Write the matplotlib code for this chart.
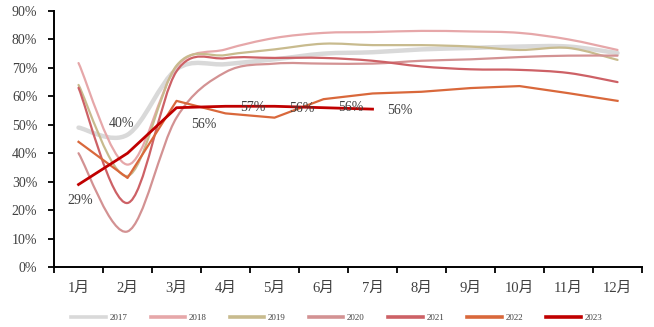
import numpy as np
import matplotlib.pyplot as plt
from matplotlib.path import Path
from matplotlib.patches import PathPatch
from matplotlib.lines import Line2D

# month labels
months = ['1月', '2月', '3月', '4月', '5月', '6月', '7月', '8月', '9月', '10月', '11月', '12月']

# monthly values (%)
y2017 = [49, 46.5, 69.5, 71.3, 73, 75, 75.5, 76.5, 77, 77.5, 77.5, 75.2]
y2018 = [71.7, 36, 70.5, 76.5, 80.5, 82.3, 82.6, 83, 82.8, 82.3, 80, 76.3]
y2019 = [64, 32, 70.8, 74.5, 76.5, 78.5, 78, 78, 77.5, 76.3, 77, 72.8]
y2020 = [40, 12.5, 52.5, 68.5, 71.5, 71.5, 71.5, 72.5, 73, 73.8, 74.3, 74.3]
y2021 = [63, 22.5, 68.8, 73.4, 73.5, 73.5, 72.5, 70.5, 69.5, 69.3, 68.2, 65]
y2022 = [44, 31.3, 58.4, 54, 52.5, 59, 61, 61.6, 62.9, 63.6, 61.1, 58.4]
y2023 = [29, 40, 56, 56.5, 56.5, 56, 55.5]

# data labels for 2023: (month index, text, offset in pixels)
label_idx = [0, 1, 2, 3, 4, 5, 6]
label_txt = ['29%', '40%', '56%', '57%', '56%', '56%', '56%']
label_off = [(2, -16), (-6, 30), (27, -17), (27, -1), (27, -2), (27, 0), (27, -1)]

series = [
    ('2017', y2017, '#d9d9d9', 3.2, True),
    ('2018', y2018, '#e6a7a9', 1.6, True),
    ('2019', y2019, '#c8bb8e', 1.6, True),
    ('2020', y2020, '#d39293', 1.6, True),
    ('2021', y2021, '#cd6166', 1.6, True),
    ('2022', y2022, '#d9683b', 1.6, False),
    ('2023', y2023, '#c00000', 2.0, False),
]

plt.rcParams['font.family'] = ['Liberation Serif', 'Noto Sans CJK SC']

fig = plt.figure(figsize=(6.54, 3.27), dpi=100)
ax = fig.add_axes([0.0826, 0.1835, 0.8991, 0.7829])


def smooth_path(x, y):
    # Excel-style smoothed line: cubic bezier through the points
    pts = np.column_stack([x, y])
    n = len(pts)
    verts = [pts[0]]
    codes = [Path.MOVETO]
    for i in range(n - 1):
        p_prev = pts[i - 1] if i > 0 else pts[i]
        p_next2 = pts[i + 2] if i + 2 < n else pts[i + 1]
        c1 = pts[i] + (pts[i + 1] - p_prev) / 6
        c2 = pts[i + 1] - (p_next2 - pts[i]) / 6
        verts += [c1, c2, pts[i + 1]]
        codes += [Path.CURVE4] * 3
    return Path(verts, codes)


handles = []
for name, vals, col, lw, smooth in series:
    x = np.arange(len(vals)) + 0.5
    if smooth:
        ax.add_patch(PathPatch(smooth_path(x, vals), fill=False, edgecolor=col,
                               lw=lw, capstyle='round', joinstyle='round'))
    else:
        ax.plot(x, vals, color=col, lw=lw)
    handles.append(Line2D([], [], color=col, lw=2.6, label=name))

for i, t, off in zip(label_idx, label_txt, label_off):
    ax.annotate(t, (i + 0.5, y2023[i]), xytext=off, textcoords='offset pixels',
                ha='center', va='center', fontsize=10, color='#404040')

ax.set_xlim(0, 12)
ax.set_ylim(0, 90)
ax.set_xticks(np.arange(13))
ax.set_xticklabels([])
ax.set_xticks(np.arange(12) + 0.5, minor=True)
ax.set_xticklabels(months, minor=True)
ax.tick_params(axis='x', which='minor', length=0, pad=11, labelsize=10.5, labelcolor='#404040')
ax.tick_params(axis='x', which='major', length=4, width=1.3, direction='out')
ax.set_yticks(np.arange(0, 91, 10))
ax.set_yticklabels([f'{v}%' for v in range(0, 91, 10)])
ax.tick_params(axis='y', length=4, width=1.3, direction='out', pad=8, labelsize=10, labelcolor='#404040')

for s in ['top', 'right']:
    ax.spines[s].set_visible(False)
for s in ['left', 'bottom']:
    ax.spines[s].set_linewidth(1.4)
    ax.spines[s].set_color('black')

leg = fig.legend(handles=handles, loc='center', bbox_to_anchor=(0.515, 0.028), ncol=7,
                 frameon=False, fontsize=6.5, handlelength=3.8, handletextpad=0.4,
                 columnspacing=2.6, borderpad=0, borderaxespad=0)
for t in leg.get_texts():
    t.set_color('#404040')

fig.savefig('out.png', dpi=100)
